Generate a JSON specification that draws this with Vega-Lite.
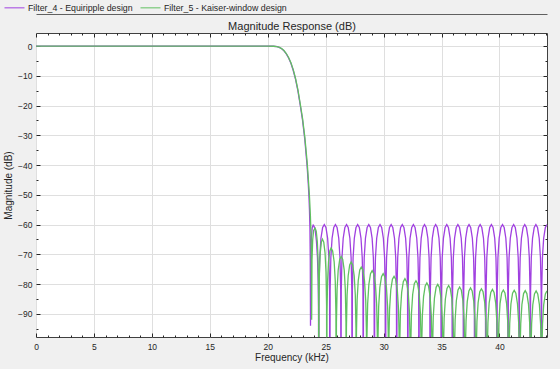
{
  "$schema": "https://vega.github.io/schema/vega-lite/v6.json",
  "width": 511,
  "height": 304,
  "autosize": {"type": "none"},
  "padding": {"left": 36, "top": 33, "right": 13, "bottom": 32},
  "background": "#f0f0f0",
  "config": {
    "view": {"fill": "white", "stroke": "#404040", "strokeWidth": 1},
    "font": "Liberation Sans",
    "axis": {"labelFont": "Liberation Sans", "titleFont": "Liberation Sans", "labelColor": "#262626", "titleColor": "#262626", "titleFontWeight": "normal", "tickColor": "#262626", "tickWidth": 1}
  },
  "datasets": {
    "response": [
      {"f":0,"m":0,"s":4},{"f":10,"m":0,"s":4},{"f":20,"m":0,"s":4},{"f":20.5,"m":-0.05,"s":4},{"f":20.8,"m":-0.2,"s":4},{"f":21,"m":-0.45,"s":4},{"f":21.2,"m":-0.9,"s":4},{"f":21.4,"m":-1.6,"s":4},{"f":21.6,"m":-2.6,"s":4},{"f":21.8,"m":-4,"s":4},{"f":22,"m":-5.8,"s":4},{"f":22.2,"m":-8.2,"s":4},{"f":22.4,"m":-11.2,"s":4},{"f":22.6,"m":-15,"s":4},{"f":22.8,"m":-19.8,"s":4},{"f":23,"m":-24.8,"s":4},{"f":23.2,"m":-31.5,"s":4},{"f":23.4,"m":-40.5,"s":4},{"f":23.5,"m":-46.5,"s":4},{"f":23.56,"m":-51,"s":4},{"f":23.6,"m":-55,"s":4},{"f":23.64,"m":-61,"s":4},{"f":23.67,"m":-72,"s":4},{"f":23.69,"m":-94,"s":4},{"f":23.72,"m":-71,"s":4},{"f":23.77,"m":-64,"s":4},{"f":23.84,"m":-61,"s":4},{"f":23.92,"m":-60.2,"s":4},{"f":24,"m":-60.6,"s":4},{"f":24.1,"m":-62,"s":4},{"f":24.2,"m":-65.5,"s":4},{"f":24.29,"m":-71,"s":4},{"f":24.35,"m":-79,"s":4},{"f":24.38,"m":-88,"s":4},{"f":24.4,"m":-130,"s":4},
      {"f":24.424,"m":-82.1,"s":4},{"f":24.486,"m":-71.1,"s":4},{"f":24.592,"m":-64.6,"s":4},{"f":24.736,"m":-61,"s":4},{"f":24.88,"m":-60,"s":4},{"f":25.024,"m":-61,"s":4},{"f":25.168,"m":-64.6,"s":4},{"f":25.274,"m":-71.1,"s":4},{"f":25.336,"m":-82.1,"s":4},{"f":25.36,"m":-130,"s":4},
      {"f":25.384,"m":-82.1,"s":4},{"f":25.446,"m":-71.1,"s":4},{"f":25.552,"m":-64.6,"s":4},{"f":25.696,"m":-61,"s":4},{"f":25.84,"m":-60,"s":4},{"f":25.984,"m":-61,"s":4},{"f":26.128,"m":-64.6,"s":4},{"f":26.234,"m":-71.1,"s":4},{"f":26.296,"m":-82.1,"s":4},{"f":26.32,"m":-130,"s":4},
      {"f":26.344,"m":-82.1,"s":4},{"f":26.406,"m":-71.1,"s":4},{"f":26.512,"m":-64.6,"s":4},{"f":26.656,"m":-61,"s":4},{"f":26.8,"m":-60,"s":4},{"f":26.944,"m":-61,"s":4},{"f":27.088,"m":-64.6,"s":4},{"f":27.194,"m":-71.1,"s":4},{"f":27.256,"m":-82.1,"s":4},{"f":27.28,"m":-130,"s":4},
      {"f":27.304,"m":-82.1,"s":4},{"f":27.366,"m":-71.1,"s":4},{"f":27.472,"m":-64.6,"s":4},{"f":27.616,"m":-61,"s":4},{"f":27.76,"m":-60,"s":4},{"f":27.904,"m":-61,"s":4},{"f":28.048,"m":-64.6,"s":4},{"f":28.154,"m":-71.1,"s":4},{"f":28.216,"m":-82.1,"s":4},{"f":28.24,"m":-130,"s":4},
      {"f":28.264,"m":-82.1,"s":4},{"f":28.326,"m":-71.1,"s":4},{"f":28.432,"m":-64.6,"s":4},{"f":28.576,"m":-61,"s":4},{"f":28.72,"m":-60,"s":4},{"f":28.864,"m":-61,"s":4},{"f":29.008,"m":-64.6,"s":4},{"f":29.114,"m":-71.1,"s":4},{"f":29.176,"m":-82.1,"s":4},{"f":29.205,"m":-130,"s":4},
      {"f":29.234,"m":-82.1,"s":4},{"f":29.296,"m":-71.1,"s":4},{"f":29.402,"m":-64.6,"s":4},{"f":29.546,"m":-61,"s":4},{"f":29.69,"m":-60,"s":4},{"f":29.834,"m":-61,"s":4},{"f":29.978,"m":-64.6,"s":4},{"f":30.084,"m":-71.1,"s":4},{"f":30.146,"m":-82.1,"s":4},{"f":30.17,"m":-130,"s":4},
      {"f":30.194,"m":-82.1,"s":4},{"f":30.256,"m":-71.1,"s":4},{"f":30.362,"m":-64.6,"s":4},{"f":30.506,"m":-61,"s":4},{"f":30.65,"m":-60,"s":4},{"f":30.794,"m":-61,"s":4},{"f":30.938,"m":-64.6,"s":4},{"f":31.044,"m":-71.1,"s":4},{"f":31.106,"m":-82.1,"s":4},{"f":31.13,"m":-130,"s":4},
      {"f":31.154,"m":-82.1,"s":4},{"f":31.216,"m":-71.1,"s":4},{"f":31.322,"m":-64.6,"s":4},{"f":31.466,"m":-61,"s":4},{"f":31.61,"m":-60,"s":4},{"f":31.754,"m":-61,"s":4},{"f":31.898,"m":-64.6,"s":4},{"f":32.004,"m":-71.1,"s":4},{"f":32.066,"m":-82.1,"s":4},{"f":32.09,"m":-130,"s":4},
      {"f":32.114,"m":-82.1,"s":4},{"f":32.176,"m":-71.1,"s":4},{"f":32.282,"m":-64.6,"s":4},{"f":32.426,"m":-61,"s":4},{"f":32.57,"m":-60,"s":4},{"f":32.714,"m":-61,"s":4},{"f":32.858,"m":-64.6,"s":4},{"f":32.964,"m":-71.1,"s":4},{"f":33.026,"m":-82.1,"s":4},{"f":33.05,"m":-130,"s":4},
      {"f":33.074,"m":-82.1,"s":4},{"f":33.136,"m":-71.1,"s":4},{"f":33.242,"m":-64.6,"s":4},{"f":33.386,"m":-61,"s":4},{"f":33.53,"m":-60,"s":4},{"f":33.674,"m":-61,"s":4},{"f":33.818,"m":-64.6,"s":4},{"f":33.924,"m":-71.1,"s":4},{"f":33.986,"m":-82.1,"s":4},{"f":34.01,"m":-130,"s":4},
      {"f":34.034,"m":-82.1,"s":4},{"f":34.096,"m":-71.1,"s":4},{"f":34.202,"m":-64.6,"s":4},{"f":34.346,"m":-61,"s":4},{"f":34.49,"m":-60,"s":4},{"f":34.634,"m":-61,"s":4},{"f":34.778,"m":-64.6,"s":4},{"f":34.884,"m":-71.1,"s":4},{"f":34.946,"m":-82.1,"s":4},{"f":34.97,"m":-130,"s":4},
      {"f":34.994,"m":-82.1,"s":4},{"f":35.056,"m":-71.1,"s":4},{"f":35.162,"m":-64.6,"s":4},{"f":35.306,"m":-61,"s":4},{"f":35.45,"m":-60,"s":4},{"f":35.594,"m":-61,"s":4},{"f":35.738,"m":-64.6,"s":4},{"f":35.844,"m":-71.1,"s":4},{"f":35.906,"m":-82.1,"s":4},{"f":35.93,"m":-130,"s":4},
      {"f":35.954,"m":-82.1,"s":4},{"f":36.016,"m":-71.1,"s":4},{"f":36.122,"m":-64.6,"s":4},{"f":36.266,"m":-61,"s":4},{"f":36.41,"m":-60,"s":4},{"f":36.554,"m":-61,"s":4},{"f":36.698,"m":-64.6,"s":4},{"f":36.804,"m":-71.1,"s":4},{"f":36.866,"m":-82.1,"s":4},{"f":36.89,"m":-130,"s":4},
      {"f":36.914,"m":-82.1,"s":4},{"f":36.976,"m":-71.1,"s":4},{"f":37.082,"m":-64.6,"s":4},{"f":37.226,"m":-61,"s":4},{"f":37.37,"m":-60,"s":4},{"f":37.514,"m":-61,"s":4},{"f":37.658,"m":-64.6,"s":4},{"f":37.764,"m":-71.1,"s":4},{"f":37.826,"m":-82.1,"s":4},{"f":37.85,"m":-130,"s":4},
      {"f":37.874,"m":-82.1,"s":4},{"f":37.936,"m":-71.1,"s":4},{"f":38.042,"m":-64.6,"s":4},{"f":38.186,"m":-61,"s":4},{"f":38.33,"m":-60,"s":4},{"f":38.474,"m":-61,"s":4},{"f":38.618,"m":-64.6,"s":4},{"f":38.724,"m":-71.1,"s":4},{"f":38.786,"m":-82.1,"s":4},{"f":38.815,"m":-130,"s":4},
      {"f":38.844,"m":-82.1,"s":4},{"f":38.906,"m":-71.1,"s":4},{"f":39.012,"m":-64.6,"s":4},{"f":39.156,"m":-61,"s":4},{"f":39.3,"m":-60,"s":4},{"f":39.444,"m":-61,"s":4},{"f":39.588,"m":-64.6,"s":4},{"f":39.694,"m":-71.1,"s":4},{"f":39.756,"m":-82.1,"s":4},{"f":39.78,"m":-130,"s":4},
      {"f":39.804,"m":-82.1,"s":4},{"f":39.866,"m":-71.1,"s":4},{"f":39.972,"m":-64.6,"s":4},{"f":40.116,"m":-61,"s":4},{"f":40.26,"m":-60,"s":4},{"f":40.404,"m":-61,"s":4},{"f":40.548,"m":-64.6,"s":4},{"f":40.654,"m":-71.1,"s":4},{"f":40.716,"m":-82.1,"s":4},{"f":40.74,"m":-130,"s":4},
      {"f":40.764,"m":-82.1,"s":4},{"f":40.826,"m":-71.1,"s":4},{"f":40.932,"m":-64.6,"s":4},{"f":41.076,"m":-61,"s":4},{"f":41.22,"m":-60,"s":4},{"f":41.364,"m":-61,"s":4},{"f":41.508,"m":-64.6,"s":4},{"f":41.614,"m":-71.1,"s":4},{"f":41.676,"m":-82.1,"s":4},{"f":41.7,"m":-130,"s":4},
      {"f":41.724,"m":-82.1,"s":4},{"f":41.786,"m":-71.1,"s":4},{"f":41.892,"m":-64.6,"s":4},{"f":42.036,"m":-61,"s":4},{"f":42.18,"m":-60,"s":4},{"f":42.324,"m":-61,"s":4},{"f":42.468,"m":-64.6,"s":4},{"f":42.574,"m":-71.1,"s":4},{"f":42.636,"m":-82.1,"s":4},{"f":42.66,"m":-130,"s":4},
      {"f":42.684,"m":-82.1,"s":4},{"f":42.746,"m":-71.1,"s":4},{"f":42.852,"m":-64.6,"s":4},{"f":42.996,"m":-61,"s":4},{"f":43.14,"m":-60,"s":4},{"f":43.284,"m":-61,"s":4},{"f":43.428,"m":-64.6,"s":4},{"f":43.534,"m":-71.1,"s":4},{"f":43.596,"m":-82.1,"s":4},{"f":43.62,"m":-130,"s":4},
      {"f":43.644,"m":-82.1,"s":4},{"f":43.706,"m":-71.1,"s":4},{"f":43.812,"m":-64.6,"s":4},{"f":43.956,"m":-61,"s":4},{"f":44.1,"m":-60,"s":4},
      {"f":0,"m":0,"s":5},{"f":10,"m":0,"s":5},{"f":20,"m":0,"s":5},{"f":20.5,"m":-0.05,"s":5},{"f":20.8,"m":-0.2,"s":5},{"f":21,"m":-0.45,"s":5},{"f":21.2,"m":-0.85,"s":5},{"f":21.4,"m":-1.5,"s":5},{"f":21.6,"m":-2.5,"s":5},{"f":21.8,"m":-3.85,"s":5},{"f":22,"m":-5.6,"s":5},{"f":22.2,"m":-7.9,"s":5},{"f":22.4,"m":-10.9,"s":5},{"f":22.6,"m":-14.6,"s":5},{"f":22.8,"m":-19.3,"s":5},{"f":23,"m":-24.2,"s":5},{"f":23.2,"m":-30.6,"s":5},{"f":23.4,"m":-39,"s":5},{"f":23.5,"m":-44.5,"s":5},{"f":23.6,"m":-50.5,"s":5},{"f":23.68,"m":-57,"s":5},{"f":23.73,"m":-63,"s":5},{"f":23.76,"m":-70,"s":5},{"f":23.79,"m":-92,"s":5},{"f":23.82,"m":-72,"s":5},{"f":23.88,"m":-65,"s":5},{"f":23.96,"m":-62,"s":5},{"f":24.09,"m":-61.2,"s":5},{"f":24.185,"m":-62.2,"s":5},{"f":24.279,"m":-65.8,"s":5},{"f":24.348,"m":-72.3,"s":5},{"f":24.389,"m":-83.3,"s":5},{"f":24.405,"m":-130,"s":5},
      {"f":24.421,"m":-87,"s":5},{"f":24.462,"m":-76,"s":5},{"f":24.531,"m":-69.5,"s":5},{"f":24.626,"m":-65.9,"s":5},{"f":24.72,"m":-64.9,"s":5},{"f":24.833,"m":-65.9,"s":5},{"f":24.945,"m":-69.5,"s":5},{"f":25.028,"m":-76,"s":5},{"f":25.076,"m":-87,"s":5},{"f":25.095,"m":-130,"s":5},
      {"f":25.114,"m":-90,"s":5},{"f":25.163,"m":-79,"s":5},{"f":25.245,"m":-72.5,"s":5},{"f":25.358,"m":-68.9,"s":5},{"f":25.47,"m":-67.9,"s":5},{"f":25.601,"m":-68.9,"s":5},{"f":25.731,"m":-72.5,"s":5},{"f":25.827,"m":-79,"s":5},{"f":25.883,"m":-90,"s":5},{"f":25.905,"m":-130,"s":5},
      {"f":25.929,"m":-92.8,"s":5},{"f":25.985,"m":-81.8,"s":5},{"f":26.08,"m":-75.3,"s":5},{"f":26.21,"m":-71.7,"s":5},{"f":26.34,"m":-70.7,"s":5},{"f":26.47,"m":-71.7,"s":5},{"f":26.6,"m":-75.3,"s":5},{"f":26.695,"m":-81.8,"s":5},{"f":26.751,"m":-92.8,"s":5},{"f":26.77,"m":-130,"s":5},
      {"f":26.791,"m":-94.7,"s":5},{"f":26.847,"m":-83.7,"s":5},{"f":26.942,"m":-77.2,"s":5},{"f":27.071,"m":-73.6,"s":5},{"f":27.2,"m":-72.6,"s":5},{"f":27.331,"m":-73.6,"s":5},{"f":27.461,"m":-77.2,"s":5},{"f":27.557,"m":-83.7,"s":5},{"f":27.613,"m":-94.7,"s":5},{"f":27.635,"m":-130,"s":5},
      {"f":27.657,"m":-96.4,"s":5},{"f":27.713,"m":-85.4,"s":5},{"f":27.809,"m":-78.9,"s":5},{"f":27.94,"m":-75.3,"s":5},{"f":28.07,"m":-74.3,"s":5},{"f":28.211,"m":-75.3,"s":5},{"f":28.352,"m":-78.9,"s":5},{"f":28.455,"m":-85.4,"s":5},{"f":28.517,"m":-96.4,"s":5},{"f":28.54,"m":-130,"s":5},
      {"f":28.562,"m":-97.6,"s":5},{"f":28.623,"m":-86.6,"s":5},{"f":28.727,"m":-80.1,"s":5},{"f":28.869,"m":-76.5,"s":5},{"f":29.01,"m":-75.5,"s":5},{"f":29.151,"m":-76.5,"s":5},{"f":29.293,"m":-80.1,"s":5},{"f":29.397,"m":-86.6,"s":5},{"f":29.458,"m":-97.6,"s":5},{"f":29.485,"m":-130,"s":5},
      {"f":29.512,"m":-98.6,"s":5},{"f":29.573,"m":-87.6,"s":5},{"f":29.677,"m":-81.1,"s":5},{"f":29.819,"m":-77.5,"s":5},{"f":29.96,"m":-76.5,"s":5},{"f":30.101,"m":-77.5,"s":5},{"f":30.243,"m":-81.1,"s":5},{"f":30.347,"m":-87.6,"s":5},{"f":30.408,"m":-98.6,"s":5},{"f":30.43,"m":-130,"s":5},
      {"f":30.452,"m":-99.5,"s":5},{"f":30.513,"m":-88.5,"s":5},{"f":30.617,"m":-82,"s":5},{"f":30.759,"m":-78.4,"s":5},{"f":30.9,"m":-77.4,"s":5},{"f":31.041,"m":-78.4,"s":5},{"f":31.183,"m":-82,"s":5},{"f":31.287,"m":-88.5,"s":5},{"f":31.348,"m":-99.5,"s":5},{"f":31.37,"m":-130,"s":5},
      {"f":31.392,"m":-100.3,"s":5},{"f":31.453,"m":-89.3,"s":5},{"f":31.557,"m":-82.8,"s":5},{"f":31.699,"m":-79.2,"s":5},{"f":31.84,"m":-78.2,"s":5},{"f":31.981,"m":-79.2,"s":5},{"f":32.123,"m":-82.8,"s":5},{"f":32.227,"m":-89.3,"s":5},{"f":32.288,"m":-100.3,"s":5},{"f":32.315,"m":-130,"s":5},
      {"f":32.342,"m":-101,"s":5},{"f":32.403,"m":-90,"s":5},{"f":32.507,"m":-83.5,"s":5},{"f":32.649,"m":-79.9,"s":5},{"f":32.79,"m":-78.9,"s":5},{"f":32.931,"m":-79.9,"s":5},{"f":33.073,"m":-83.5,"s":5},{"f":33.177,"m":-90,"s":5},{"f":33.238,"m":-101,"s":5},{"f":33.26,"m":-130,"s":5},
      {"f":33.282,"m":-101.7,"s":5},{"f":33.343,"m":-90.7,"s":5},{"f":33.447,"m":-84.2,"s":5},{"f":33.589,"m":-80.6,"s":5},{"f":33.73,"m":-79.6,"s":5},{"f":33.871,"m":-80.6,"s":5},{"f":34.013,"m":-84.2,"s":5},{"f":34.117,"m":-90.7,"s":5},{"f":34.178,"m":-101.7,"s":5},{"f":34.2,"m":-130,"s":5},
      {"f":34.222,"m":-102.2,"s":5},{"f":34.283,"m":-91.2,"s":5},{"f":34.387,"m":-84.7,"s":5},{"f":34.529,"m":-81.1,"s":5},{"f":34.67,"m":-80.1,"s":5},{"f":34.811,"m":-81.1,"s":5},{"f":34.953,"m":-84.7,"s":5},{"f":35.057,"m":-91.2,"s":5},{"f":35.118,"m":-102.2,"s":5},{"f":35.14,"m":-130,"s":5},
      {"f":35.162,"m":-102.6,"s":5},{"f":35.223,"m":-91.6,"s":5},{"f":35.327,"m":-85.1,"s":5},{"f":35.469,"m":-81.5,"s":5},{"f":35.61,"m":-80.5,"s":5},{"f":35.751,"m":-81.5,"s":5},{"f":35.893,"m":-85.1,"s":5},{"f":35.997,"m":-91.6,"s":5},{"f":36.058,"m":-102.6,"s":5},{"f":36.085,"m":-130,"s":5},
      {"f":36.112,"m":-103.1,"s":5},{"f":36.173,"m":-92.1,"s":5},{"f":36.277,"m":-85.6,"s":5},{"f":36.419,"m":-82,"s":5},{"f":36.56,"m":-81,"s":5},{"f":36.701,"m":-82,"s":5},{"f":36.843,"m":-85.6,"s":5},{"f":36.947,"m":-92.1,"s":5},{"f":37.008,"m":-103.1,"s":5},{"f":37.03,"m":-130,"s":5},
      {"f":37.052,"m":-103.4,"s":5},{"f":37.113,"m":-92.4,"s":5},{"f":37.217,"m":-85.9,"s":5},{"f":37.359,"m":-82.3,"s":5},{"f":37.5,"m":-81.3,"s":5},{"f":37.641,"m":-82.3,"s":5},{"f":37.783,"m":-85.9,"s":5},{"f":37.887,"m":-92.4,"s":5},{"f":37.948,"m":-103.4,"s":5},{"f":37.97,"m":-130,"s":5},
      {"f":37.992,"m":-103.7,"s":5},{"f":38.053,"m":-92.7,"s":5},{"f":38.157,"m":-86.2,"s":5},{"f":38.299,"m":-82.6,"s":5},{"f":38.44,"m":-81.6,"s":5},{"f":38.581,"m":-82.6,"s":5},{"f":38.723,"m":-86.2,"s":5},{"f":38.827,"m":-92.7,"s":5},{"f":38.888,"m":-103.7,"s":5},{"f":38.915,"m":-130,"s":5},
      {"f":38.942,"m":-103.9,"s":5},{"f":39.003,"m":-92.9,"s":5},{"f":39.107,"m":-86.4,"s":5},{"f":39.249,"m":-82.8,"s":5},{"f":39.39,"m":-81.8,"s":5},{"f":39.531,"m":-82.8,"s":5},{"f":39.673,"m":-86.4,"s":5},{"f":39.777,"m":-92.9,"s":5},{"f":39.838,"m":-103.9,"s":5},{"f":39.86,"m":-130,"s":5},
      {"f":39.882,"m":-104.1,"s":5},{"f":39.943,"m":-93.1,"s":5},{"f":40.047,"m":-86.6,"s":5},{"f":40.189,"m":-83,"s":5},{"f":40.33,"m":-82,"s":5},{"f":40.471,"m":-83,"s":5},{"f":40.613,"m":-86.6,"s":5},{"f":40.717,"m":-93.1,"s":5},{"f":40.778,"m":-104.1,"s":5},{"f":40.8,"m":-130,"s":5},
      {"f":40.822,"m":-104.2,"s":5},{"f":40.883,"m":-93.2,"s":5},{"f":40.987,"m":-86.7,"s":5},{"f":41.129,"m":-83.1,"s":5},{"f":41.27,"m":-82.1,"s":5},{"f":41.411,"m":-83.1,"s":5},{"f":41.553,"m":-86.7,"s":5},{"f":41.657,"m":-93.2,"s":5},{"f":41.718,"m":-104.2,"s":5},{"f":41.745,"m":-130,"s":5},
      {"f":41.772,"m":-104.3,"s":5},{"f":41.833,"m":-93.3,"s":5},{"f":41.937,"m":-86.8,"s":5},{"f":42.079,"m":-83.2,"s":5},{"f":42.22,"m":-82.2,"s":5},{"f":42.361,"m":-83.2,"s":5},{"f":42.503,"m":-86.8,"s":5},{"f":42.607,"m":-93.3,"s":5},{"f":42.668,"m":-104.3,"s":5},{"f":42.69,"m":-130,"s":5},
      {"f":42.712,"m":-104.4,"s":5},{"f":42.773,"m":-93.4,"s":5},{"f":42.877,"m":-86.9,"s":5},{"f":43.019,"m":-83.3,"s":5},{"f":43.16,"m":-82.3,"s":5},{"f":43.301,"m":-83.3,"s":5},{"f":43.443,"m":-86.9,"s":5},{"f":43.547,"m":-93.4,"s":5},{"f":43.608,"m":-104.4,"s":5},{"f":43.63,"m":-130,"s":5},
      {"f":43.652,"m":-104.4,"s":5},{"f":43.713,"m":-93.4,"s":5},{"f":43.817,"m":-86.9,"s":5},{"f":43.959,"m":-83.3,"s":5},{"f":44.1,"m":-82.3,"s":5}
    ],
    "names": [
      {"s": 4, "name": "Filter_4 - Equiripple design"},
      {"s": 5, "name": "Filter_5 - Kaiser-window design"}
    ]
  },
  "data": {"name": "response"},
  "layer": [
    {
      "transform": [{"lookup": "s", "from": {"data": {"name": "names"}, "key": "s", "fields": ["name"]}}],
      "mark": {"type": "line", "clip": true, "strokeWidth": 1.3},
      "encoding": {
        "x": {"field": "f", "type": "quantitative", "scale": {"domain": [0, 44.1], "nice": false, "zero": false},
          "axis": {"orient": "bottom", "values": [0,5,10,15,20,25,30,35,40], "labels": true, "labelFontSize": 8.5, "labelPadding": 5.5, "labelFlush": false, "grid": true, "gridColor": "#dfdfdf", "ticks": false, "domain": false, "title": "Frequency (kHz)", "titleFontSize": 10, "titlePadding": 1.5}},
        "y": {"field": "m", "type": "quantitative", "scale": {"domain": [-97.8, 4.4], "nice": false, "zero": false},
          "axis": {"orient": "left", "values": [-90,-80,-70,-60,-50,-40,-30,-20,-10,0], "labels": true, "labelFontSize": 8.5, "labelPadding": 4, "labelFlush": false, "grid": true, "gridColor": "#dfdfdf", "ticks": false, "domain": false, "title": "Magnitude (dB)", "titleFontSize": 10, "titlePadding": 4}},
        "color": {"field": "name", "type": "nominal",
          "scale": {"domain": ["Filter_4 - Equiripple design", "Filter_5 - Kaiser-window design"], "range": ["#a040e0", "#60c060"]},
          "legend": {"orient": "none", "legendX": -32, "legendY": -36, "direction": "horizontal", "title": null, "symbolType": "stroke", "symbolSize": 400, "symbolStrokeWidth": 1, "labelFontSize": 8.8, "labelFont": "Liberation Sans", "labelColor": "#262626", "labelOffset": 3, "columnPadding": 5, "padding": 0}}
      }
    },
    {
      "transform": [{"filter": "datum.f == 0"}],
      "mark": {"type": "point", "opacity": 0},
      "encoding": {
        "x": {"field": "f", "type": "quantitative", "scale": {"domain": [0, 44.1], "nice": false, "zero": false},
          "axis": {"orient": "bottom", "values": [0,5,10,15,20,25,30,35,40], "labels": false, "grid": false, "domain": false, "ticks": true, "tickSize": -4, "title": null}},
        "y": {"field": "m", "type": "quantitative", "scale": {"domain": [-97.8, 4.4], "nice": false, "zero": false},
          "axis": {"orient": "left", "values": [-90,-80,-70,-60,-50,-40,-30,-20,-10,0], "labels": false, "grid": false, "domain": false, "ticks": true, "tickSize": -4, "title": null}}
      }
    },
    {
      "transform": [{"filter": "datum.f == 0"}],
      "mark": {"type": "point", "opacity": 0},
      "encoding": {
        "x": {"field": "f", "type": "quantitative", "scale": {"domain": [0, 44.1], "nice": false, "zero": false},
          "axis": {"orient": "bottom", "values": [1,2,3,4,6,7,8,9,11,12,13,14,16,17,18,19,21,22,23,24,26,27,28,29,31,32,33,34,36,37,38,39,41,42,43,44], "labels": false, "grid": false, "domain": false, "ticks": true, "tickSize": -2, "title": null}},
        "y": {"field": "m", "type": "quantitative", "scale": {"domain": [-97.8, 4.4], "nice": false, "zero": false},
          "axis": {"orient": "left", "values": [-95,-85,-75,-65,-55,-45,-35,-25,-15,-5], "labels": false, "grid": false, "domain": false, "ticks": true, "tickSize": -2, "title": null}}
      }
    },
    {
      "transform": [{"filter": "datum.f == 0"}],
      "mark": {"type": "point", "opacity": 0},
      "encoding": {
        "x": {"field": "f", "type": "quantitative", "scale": {"domain": [0, 44.1], "nice": false, "zero": false},
          "axis": {"orient": "top", "values": [0,5,10,15,20,25,30,35,40], "labels": false, "grid": false, "domain": false, "ticks": true, "tickSize": -4, "title": "Magnitude Response (dB)", "titleFontSize": 11, "titlePadding": 1.5}},
        "y": {"field": "m", "type": "quantitative", "scale": {"domain": [-97.8, 4.4], "nice": false, "zero": false},
          "axis": {"orient": "right", "values": [-90,-80,-70,-60,-50,-40,-30,-20,-10,0], "labels": false, "grid": false, "domain": false, "ticks": true, "tickSize": -4, "title": null}}
      }
    },
    {
      "transform": [{"filter": "datum.f == 0"}],
      "mark": {"type": "point", "opacity": 0},
      "encoding": {
        "x": {"field": "f", "type": "quantitative", "scale": {"domain": [0, 44.1], "nice": false, "zero": false},
          "axis": {"orient": "top", "values": [1,2,3,4,6,7,8,9,11,12,13,14,16,17,18,19,21,22,23,24,26,27,28,29,31,32,33,34,36,37,38,39,41,42,43,44], "labels": false, "grid": false, "domain": false, "ticks": true, "tickSize": -2, "title": null}},
        "y": {"field": "m", "type": "quantitative", "scale": {"domain": [-97.8, 4.4], "nice": false, "zero": false},
          "axis": {"orient": "right", "values": [-95,-85,-75,-65,-55,-45,-35,-25,-15,-5], "labels": false, "grid": false, "domain": false, "ticks": true, "tickSize": -2, "title": null}}
      }
    },
    {
      "transform": [{"filter": "datum.f == 0"}],
      "mark": {"type": "point", "opacity": 0},
      "encoding": {
        "x": {"field": "f", "type": "quantitative", "scale": {"domain": [0, 44.1], "nice": false, "zero": false},
          "axis": {"orient": "top", "offset": 19, "values": [], "labels": false, "grid": false, "domain": true, "domainColor": "#606060", "domainWidth": 1, "ticks": false, "title": null}}
      }
    }
  ],
  "resolve": {"scale": {"x": "shared", "y": "shared"}, "axis": {"x": "independent", "y": "independent"}}
}
